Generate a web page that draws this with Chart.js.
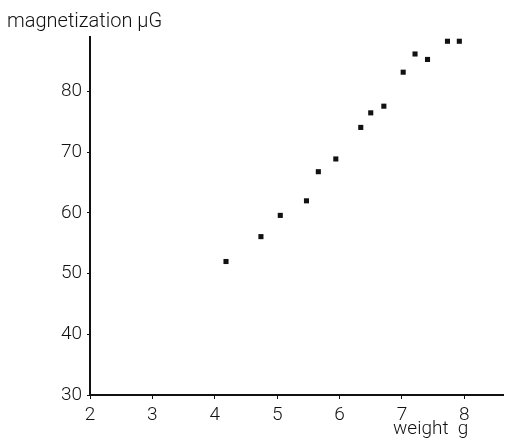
<!DOCTYPE html>
<html>
<head>
<meta charset="utf-8">
<script src="https://cdn.jsdelivr.net/npm/chart.js@4.4.0/dist/chart.umd.min.js"></script>
<style>
html,body{margin:0;padding:0;background:#fff;}
#wrap{width:507px;height:440px;}
</style>
</head>
<body>
<div id="wrap"><canvas id="c" width="507" height="440"></canvas></div>
<script>
const weights = [4.18, 4.74, 5.05, 5.47, 5.66, 5.94, 6.34, 6.50, 6.71, 7.02, 7.21, 7.41, 7.73, 7.92];
const magnetization = [52.0, 56.1, 59.6, 62.0, 66.8, 68.9, 74.1, 76.5, 77.6, 83.2, 86.2, 85.3, 88.3, 88.3];
const xTicks = [2, 3, 4, 5, 6, 7, 8];
const yTicks = [30, 40, 50, 60, 70, 80];
const yTitle = 'magnetization μG';
const xTitle = 'weight  g';

const FONT = 'Roboto, "DejaVu Sans", sans-serif';

const titles = {
  id: 'titles',
  afterDraw(chart) {
    const ctx = chart.ctx;
    ctx.save();
    ctx.fillStyle = '#111';
    ctx.font = '300 20px ' + FONT;
    ctx.textAlign = 'left';
    ctx.textBaseline = 'alphabetic';
    ctx.fillText(yTitle, 7, 27);
    ctx.font = '300 19px ' + FONT;
    ctx.fillText(xTitle, 393, 434);
    ctx.restore();
  }
};

new Chart(document.getElementById('c'), {
  type: 'scatter',
  data: {
    datasets: [{
      data: weights.map((w, i) => ({x: w, y: magnetization[i]})),
      pointStyle: 'rect',
      pointRadius: 3.6,
      backgroundColor: '#111',
      borderColor: '#111',
      borderWidth: 0
    }]
  },
  options: {
    responsive: false,
    animation: false,
    layout: {padding: {top: 37, right: 0, left: 0, bottom: 0}},
    plugins: {legend: {display: false}, tooltip: {enabled: false}},
    scales: {
      x: {
        type: 'linear',
        min: 2, max: 8.62,
        afterBuildTicks(s) { s.ticks = xTicks.map(v => ({value: v})); },
        afterFit(s) { s.height = 45; },
        grid: {display: true, drawOnChartArea: false, drawTicks: true, tickLength: 4, color: '#111', lineWidth: 1},
        border: {display: true, color: '#111', width: 2},
        ticks: {color: '#111', font: {family: FONT, size: 19, weight: 300}, padding: 5, maxRotation: 0}
      },
      y: {
        type: 'linear',
        min: 30, max: 89,
        afterBuildTicks(s) { s.ticks = yTicks.map(v => ({value: v})); },
        afterFit(s) { s.width = 90; },
        grid: {display: true, drawOnChartArea: false, drawTicks: true, tickLength: 3, color: '#111', lineWidth: 1},
        border: {display: true, color: '#111', width: 2},
        ticks: {color: '#111', font: {family: FONT, size: 19, weight: 300}, padding: 5}
      }
    }
  },
  plugins: [titles]
});
</script>
</body>
</html>
